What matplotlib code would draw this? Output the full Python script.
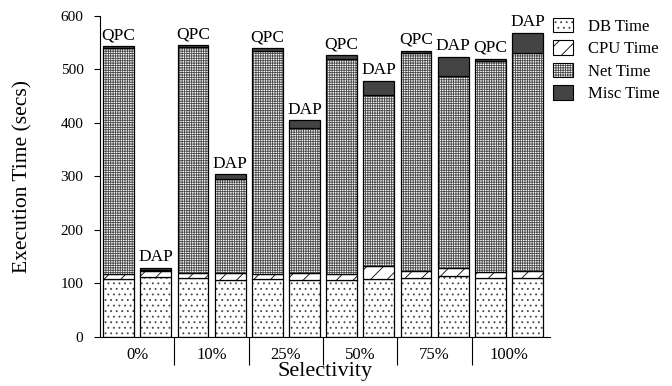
import matplotlib
matplotlib.use("Agg")
import matplotlib.pyplot as plt
from matplotlib.patches import Patch
import numpy as np

plt.rcParams['font.family'] = ['Liberation Serif', 'DejaVu Serif']
plt.rcParams['hatch.linewidth'] = 0.6

groups = ["0%", "10%", "25%", "50%", "75%", "100%"]
systems = ["QPC", "DAP"]

qpc_db = [108, 110, 108, 106, 111, 111]
qpc_cpu = [9, 9, 10, 12, 12, 11]
qpc_net = [423, 422, 417, 402, 407, 393]
qpc_misc = [4, 4, 4, 6, 5, 5]

dap_db = [112, 106, 106, 108, 113, 110]
dap_cpu = [12, 14, 13, 25, 15, 14]
dap_net = [1, 176, 271, 319, 360, 406]
dap_misc = [4, 8, 15, 27, 35, 38]

components = ["DB Time", "CPU Time", "Net Time", "Misc Time"]

fig = plt.figure(figsize=(6.72, 3.86), dpi=100)
ax = fig.add_axes([0.149, 0.127, 0.669, 0.832])

# (facecolor, hatch, hatch colour)
styles = [
    ('white', '...', '#444444'),
    ('white', '//', 'black'),
    ('white', '+++++++', '#4a4a4a'),
    ('#444444', None, '#444444'),
]

width = 0.83
edge_lw = 0.9
data = {"QPC": [qpc_db, qpc_cpu, qpc_net, qpc_misc],
        "DAP": [dap_db, dap_cpu, dap_net, dap_misc]}

for j, sysname in enumerate(systems):
    x = np.arange(len(groups)) * 2 + j
    bottom = np.zeros(len(groups))
    for k, comp in enumerate(components):
        vals = np.array(data[sysname][k], dtype=float)
        face, hatch, hcol = styles[k]
        ax.bar(x, vals, width, bottom=bottom, facecolor=face, hatch=hatch,
               edgecolor=hcol, linewidth=0)
        ax.bar(x, vals, width, bottom=bottom, fill=False, edgecolor='black',
               linewidth=edge_lw)
        bottom += vals
    for xi, top in zip(x, bottom):
        ax.text(xi, top + 5, sysname, ha='center', va='bottom', fontsize=12.5)

ax.set_xlim(-0.5, 11.6)
ax.set_ylim(0, 600)
ax.set_yticks(range(0, 601, 100))
ax.tick_params(axis='y', direction='out', length=4, width=0.8, labelsize=11, pad=8)

sep = np.arange(1, len(groups)) * 2 - 0.5
ax.set_xticks(sep)
ax.set_xticklabels([])
ax.tick_params(axis='x', which='major', direction='out', length=20, width=0.8)
centers = np.arange(len(groups)) * 2 + 0.5
ax.set_xticks(centers, minor=True)
ax.set_xticklabels(groups, minor=True, fontsize=12)
ax.tick_params(axis='x', which='minor', length=0, pad=7)

ax.spines['top'].set_visible(False)
ax.spines['right'].set_visible(False)

ax.set_xlabel("Selectivity", fontsize=16, labelpad=0)
ax.xaxis.set_label_coords(0.5, -0.078)
ax.set_ylabel("Execution Time (secs)", fontsize=15.5)
ax.yaxis.set_label_coords(-0.15, 0.5)

handles = []
for face, hatch, hcol in styles:
    handles.append((Patch(facecolor=face, hatch=hatch, edgecolor=hcol, linewidth=0),
                    Patch(fill=False, edgecolor='black', linewidth=0.8)))
fig.legend(handles, components, loc='upper left',
           bbox_to_anchor=(553 / 672, 1 - 18 / 386), frameon=False,
           fontsize=12, handlelength=1.2, handleheight=0.95,
           handletextpad=0.9, labelspacing=0.33, borderaxespad=0, borderpad=0)

fig.savefig("out.png", dpi=100)
